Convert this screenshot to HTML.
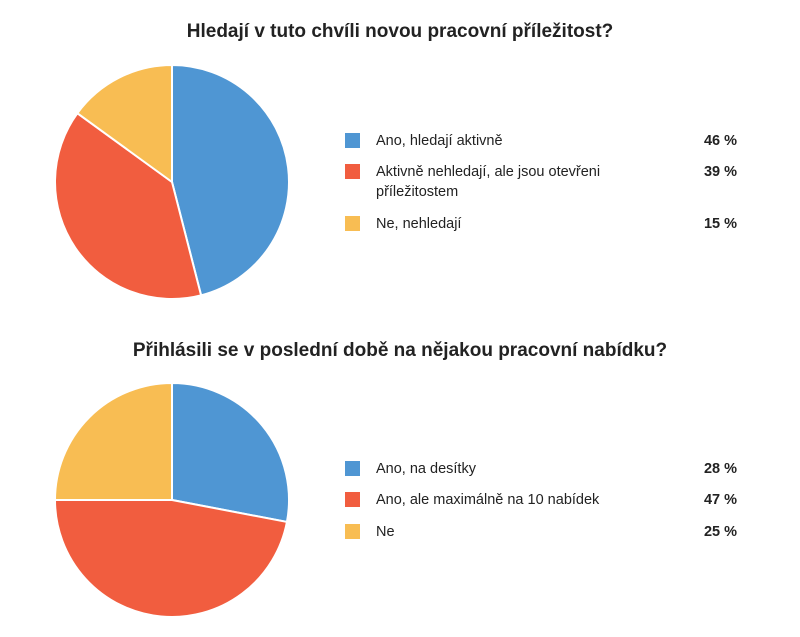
<!DOCTYPE html>
<html><head><meta charset="utf-8">
<style>
body{margin:0;background:#fff;width:800px;height:637px;overflow:hidden;font-family:"Liberation Sans","DejaVu Sans",sans-serif;}
svg{display:block}
</style></head>
<body>
<svg id="chart" width="800" height="637"></svg>
<script>
const titles = ["Hledají v tuto chvíli novou pracovní příležitost?", "Přihlásili se v poslední době na nějakou pracovní nabídku?"];
const labels1 = [["Ano, hledají aktivně"], ["Aktivně nehledají, ale jsou otevřeni", "příležitostem"], ["Ne, nehledají"]];
const values1 = [46, 39, 15];
const labels2 = [["Ano, na desítky"], ["Ano, ale maximálně na 10 nabídek"], ["Ne"]];
const values2 = [28, 47, 25];
const colors = ["#4f96d3", "#f15d3f", "#f8bd53"];
const NS = "http://www.w3.org/2000/svg";
const svg = document.getElementById("chart");
function mk(tag, attrs, parent){const e=document.createElementNS(NS,tag);for(const k in attrs)e.setAttribute(k,attrs[k]);(parent||svg).appendChild(e);return e;}
function drawChart(idx, title, labels, values, cy, legendYs, titleY){
  const g = mk("g",{});
  
  
  const t = mk("text",{x:400,y:titleY,"text-anchor":"middle","font-size":"19","font-weight":"bold",fill:"#222"},g);
  t.textContent = title;
  
  
  const cx=172, r=117;
  const total = values.reduce((a,b)=>a+b,0);
  let a0 = -Math.PI/2;
  values.forEach((v,i)=>{
    const a1 = a0 + v/total*2*Math.PI;
    const x0=cx+r*Math.cos(a0), y0=cy+r*Math.sin(a0), x1=cx+r*Math.cos(a1), y1=cy+r*Math.sin(a1);
    const large = (a1-a0)>Math.PI?1:0;
    const p = mk("path",{d:`M${cx},${cy} L${x0},${y0} A${r},${r} 0 ${large} 1 ${x1},${y1} Z`,fill:colors[i],stroke:"#fff","stroke-width":"2"},g);
    
    
    a0 = a1;
  });
  labels.forEach((lines,i)=>{
    const y = legendYs[i];
    const lg = mk("g",{},g);
    
    
    mk("rect",{x:345,y:y-12,width:15,height:15,fill:colors[i]},lg);
    lines.forEach((ln,j)=>{
      const tx = mk("text",{x:376,y:y+j*20,"font-size":"14.5",fill:"#222"},lg);
      tx.textContent = ln;
    });
    const pv = mk("text",{x:737,y:y,"text-anchor":"end","font-size":"14.5","font-weight":"bold",fill:"#222"},lg);
    pv.textContent = values[i] + " %";
  });
}
drawChart(0, titles[0], labels1, values1, 182, [145, 176, 228], 37);
drawChart(1, titles[1], labels2, values2, 500, [473, 504, 536], 356);
</script>
</body></html>
